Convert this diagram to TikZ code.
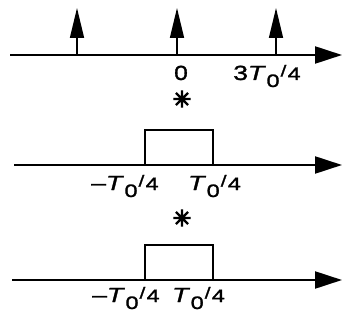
\documentclass[tikz,border=0pt]{standalone}
\usepackage{fontspec}
\setmainfont{Liberation Sans}
\newfontfamily\labfont[FakeBold=1.2]{Liberation Sans}
\newfontfamily\djfont[FakeBold=5]{DejaVu Sans}
\usetikzlibrary{arrows.meta}
\newcommand{\tlab}[1]{\scalebox{1.3}[1]{#1\textit{T}\kern0.5pt\raisebox{-7pt}{\fontsize{18}{18}\selectfont 0}\kern0.8pt\raisebox{3.5pt}{\fontsize{16}{16}\selectfont /}\kern1pt{\fontsize{18}{18}\selectfont 4}}}
\begin{document}
\begin{tikzpicture}[x=1pt,y=-1pt,
  axis/.style={line width=2.2pt,-{Triangle[length=27pt,width=17pt]}},
  impulse/.style={line width=1.6pt,-{Triangle[length=30pt,width=14pt]}},
  pulse/.style={line width=1.8pt},
  lbl/.style={font=\labfont\fontsize{20.5}{22}\selectfont,inner sep=0pt,anchor=base west},
  conv/.style={font=\djfont\fontsize{22}{22}\selectfont,inner sep=0pt}]
\useasboundingbox (0,0) rectangle (342,320);
% row 1
\coordinate (a1s) at (10,55); \coordinate (a1e) at (342,55);
\draw[axis] (a1s) -- (a1e);
\coordinate (i1b) at (77,55); \coordinate (i1t) at (77,8);
\coordinate (i2b) at (177,55); \coordinate (i2t) at (177,8);
\coordinate (i3b) at (276,55); \coordinate (i3t) at (276,8);
\draw[impulse] (i1b) -- (i1t);
\draw[impulse] (i2b) -- (i2t);
\draw[impulse] (i3b) -- (i3t);
\node[lbl,anchor=base] (l0) at (181,80) {\scalebox{1.2}[1]{0}};
\node[lbl] (l34) at (233,80) {\tlab{3}};
\node[conv] (c1) at (182,99) {✳};
% row 2
\coordinate (a2s) at (14,165); \coordinate (a2e) at (342,165);
\draw[axis] (a2s) -- (a2e);
\draw[pulse] (145,165) -- (145,130) -- (213,130) -- (213,165);
\node[lbl] (l2a) at (91,190) {\tlab{–}};
\node[lbl] (l2b) at (188,190) {\tlab{}};
\node[conv] (c2) at (182,218) {✳};
% row 3
\coordinate (a3s) at (12,280); \coordinate (a3e) at (342,280);
\draw[axis] (a3s) -- (a3e);
\draw[pulse] (145,280) -- (145,245) -- (213,245) -- (213,280);
\node[lbl] (l3a) at (92,302) {\tlab{–}};
\node[lbl] (l3b) at (172,302) {\tlab{}};
\end{tikzpicture}
\end{document}
